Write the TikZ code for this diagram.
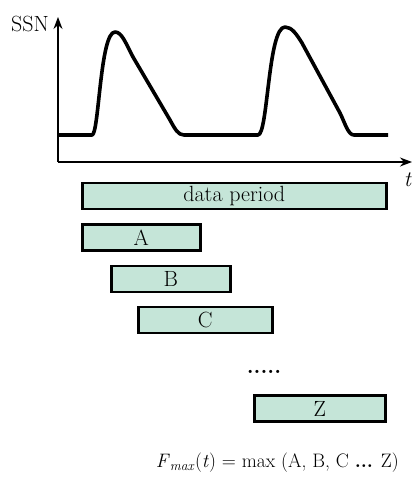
\documentclass[tikz,border=0pt]{standalone}
\usepackage{fontspec}
\definecolor{boxgreen}{RGB}{197,229,216}
\usetikzlibrary{arrows.meta,positioning}
\begin{document}
\begin{tikzpicture}[x=1pt, y=-1pt, every node/.style={font=\fontsize{22}{26}\selectfont},
  bx/.style={draw, fill=boxgreen, line width=2.6pt, inner sep=0pt, minimum height=26pt, anchor=west},
  ax/.style={line width=1.4pt, -{Stealth[length=12pt, width=9pt]}}]
\useasboundingbox (0,0) rectangle (412,489);
% Axes
\coordinate (o) at (58,162);
\coordinate (ytop) at (58,17);
\coordinate (xend) at (412,162);
\draw[ax] (o) -- (ytop);
\draw[ax] (o) -- (xend);
\node[anchor=east, inner sep=0pt] (ssn) at (49,24) {SSN};
\node[inner sep=0pt] (t) at (408,180) {\textit{t}};
% SSN curve
\draw[line width=3.6pt, line join=round] (58,135) -- (92,135)
  .. controls (99,135) and (100,32) .. (115,32)
  .. controls (122,32) and (126,44) .. (133,57) -- (170,120)
  .. controls (175,129) and (178,135) .. (184,135) -- (258,135)
  .. controls (268,135) and (268,27) .. (285,27)
  .. controls (292,27) and (297,35) .. (302,43) -- (340,113)
  .. controls (345,123) and (348,135) .. (354,135) -- (388,135);
% Periods
\node[bx, minimum width=304pt] (data) at (81,196) {data period};
\node[bx, minimum width=118pt] (a) at (81,237.5) {A};
\node[bx, minimum width=119pt] (b) at (110,279) {B};
\node[bx, minimum width=134pt] (c) at (137,320) {C};
\node[inner sep=0pt] (dots) at (264,372) {\textbf{.....}};
\node[bx, minimum width=131pt] (z) at (253,408.5) {Z};
% Result
\node[anchor=east, inner sep=0pt, font=\fontsize{19.5}{23}\selectfont] (fmax) at (399,463) {\textit{F}\textsubscript{\textit{max}}(\textit{t}) = max (A, B, C \textbf{...} Z)};
\end{tikzpicture}
\end{document}
